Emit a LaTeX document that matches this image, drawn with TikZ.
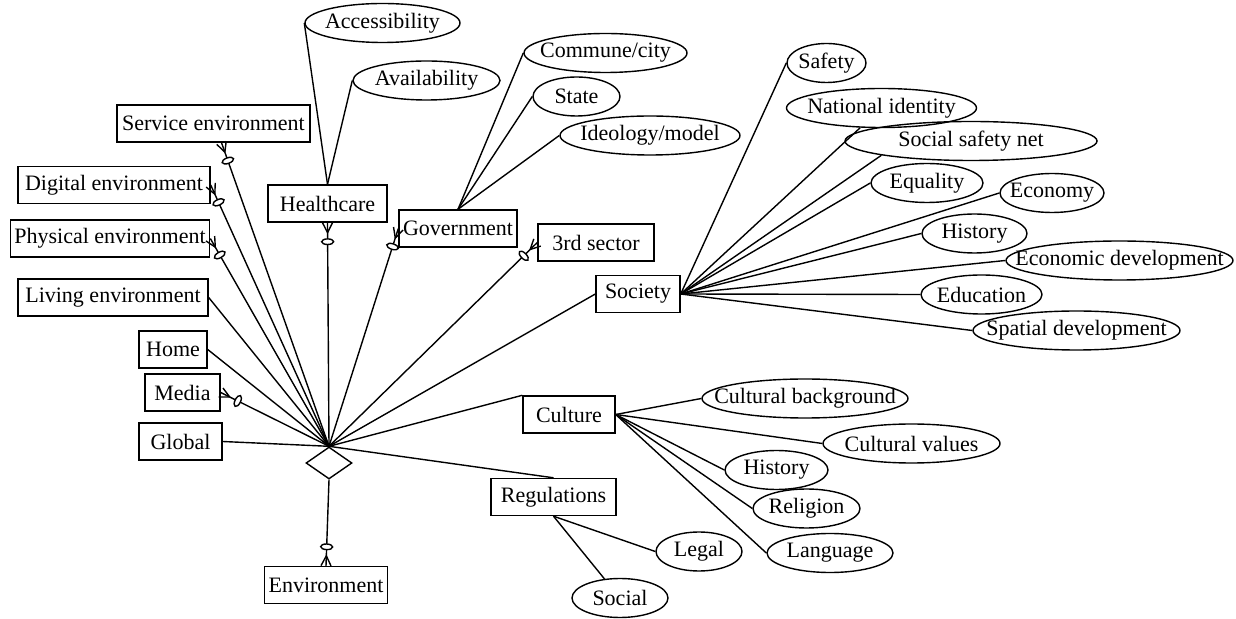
\documentclass[tikz,border=0pt]{standalone}
\usepackage{fontspec}
\setmainfont{Liberation Serif}
\usetikzlibrary{shapes.geometric,decorations.markings}
\begin{document}
\begin{tikzpicture}[
  x=0.5pt, y=-0.5pt,
  font=\fontsize{11}{13}\selectfont,
  box/.style={draw, line width=0.7pt, minimum height=18.5pt, inner sep=2pt},
  attr/.style={draw, ellipse, line width=0.7pt, minimum height=19.5pt, inner xsep=-40pt, inner ysep=-10pt},
  link/.style={line width=0.7pt},
  zmany/.style={link, postaction={decorate}, decoration={markings, mark=at position 1 with {
    \draw[line width=0.7pt] (-5pt,0pt) -- (0pt,2.5pt) (-5pt,0pt) -- (0pt,-2.5pt);
    \draw[line width=0.7pt, fill=white] (-9.5pt,0pt) ellipse [x radius=1.4pt, y radius=3pt];}}}
]
\useasboundingbox (0,0) rectangle (1236,619);

\node[draw, diamond, line width=0.7pt, minimum width=23pt, minimum height=16pt, inner sep=0pt] (hub) at (329,463) {};

\node[box, minimum width=96.5pt] (svc) at (213.5,123.5) {Service environment};
\node[box, minimum width=96pt] (dig) at (114,185) {Digital environment};
\node[box, minimum width=99.5pt] (phys) at (110,238.5) {Physical environment};
\node[box, minimum width=95pt] (liv) at (113,297.5) {Living environment};
\node[box, minimum width=34pt] (home) at (173,349.5) {Home};
\node[box, minimum width=37.5pt] (media) at (182.5,392.5) {Media};
\node[box, minimum width=41.5pt] (glob) at (180.5,441.5) {Global};
\node[box, minimum width=59.5pt] (hc) at (327.5,203.5) {Healthcare};
\node[box, minimum width=58pt] (gov) at (458,228.5) {Government};
\node[box, minimum width=58pt] (third) at (596,242.5) {3rd sector};
\node[box, minimum width=42pt] (soc) at (638,294) {Society};
\node[box, minimum width=46pt] (cult) at (569,414.5) {Culture};
\node[box, minimum width=62.5pt] (reg) at (553.5,497) {Regulations};
\node[box, minimum width=61pt] (env) at (326,585) {Environment};

\node[attr, minimum width=77.5pt] (acc) at (382.5,23) {Accessibility};
\node[attr, minimum width=73.5pt] (avail) at (426.5,80.5) {Availability};
\node[attr, minimum width=81.5pt] (comm) at (605.5,53) {Commune/city};
\node[attr, minimum width=43.5pt] (state) at (576.5,96.5) {State};
\node[attr, minimum width=90pt] (ideo) at (650,135.5) {Ideology/model};
\node[attr, minimum width=39.5pt] (safe) at (826.5,63) {Safety};
\node[attr, minimum width=95pt] (natid) at (881.5,108) {National identity};
\node[attr, minimum width=126pt] (ssn) at (971,141) {Social safety net};
\node[attr, minimum width=56pt] (equal) at (927,183) {Equality};
\node[attr, minimum width=52pt] (econ) at (1052,193) {Economy};
\node[attr, minimum width=52.5pt] (hist) at (974.5,233.5) {History};
\node[attr, minimum width=113.5pt] (ecodev) at (1119.5,260.5) {Economic development};
\node[attr, minimum width=60.5pt] (edu) at (981.5,294.5) {Education};
\node[attr, minimum width=103.5pt] (spat) at (1076.5,330.5) {Spatial development};
\node[attr, minimum width=103pt] (cbg) at (805,398.5) {Cultural background};
\node[attr, minimum width=88.5pt] (cval) at (911.5,443.5) {Cultural values};
\node[attr, minimum width=51.5pt] (chist) at (776.5,470) {History};
\node[attr, minimum width=53.5pt] (relig) at (806.5,508.5) {Religion};
\node[attr, minimum width=63pt] (lang) at (830,553) {Language};
\node[attr, minimum width=43pt] (legal) at (699,551.5) {Legal};
\node[attr, minimum width=48pt] (social) at (620,598) {Social};

\draw[zmany] (hub.north) -- ([xshift=4pt]svc.south);
\draw[zmany] (hub.north) -- (dig.east);
\draw[zmany] (hub.north) -- (phys.east);
\draw[link] (hub.north) -- (liv.east);
\draw[link] (hub.north) -- (home.east);
\draw[zmany] (hub.north) -- (media.east);
\draw[link] (hub.north) -- (glob.east);
\draw[zmany] (hub.north) -- (hc.south);
\draw[zmany] (hub.north) -- (gov.west);
\draw[zmany] (hub.north) -- (third.west);
\draw[link] (hub.north) -- (soc.west);
\draw[link] (hub.north) -- (cult.north west);
\draw[link] (hub.north) -- (reg.north);
\draw[zmany] (hub.south) -- (env.north);

\draw[link] (hc.north) -- (acc.west);
\draw[link] (hc.north) -- (avail.west);
\draw[link] (gov.north) -- (comm.west);
\draw[link] (gov.north) -- (state.west);
\draw[link] (gov.north) -- (ideo.west);

\draw[link] (soc.east) -- (safe.west);
\draw[link] (soc.east) -- (natid);
\draw[link] (soc.east) -- (ssn.south west);
\draw[link] (soc.east) -- (equal.west);
\draw[link] (soc.east) -- (econ.west);
\draw[link] (soc.east) -- (hist.west);
\draw[link] (soc.east) -- (ecodev.west);
\draw[link] (soc.east) -- (edu.west);
\draw[link] (soc.east) -- (spat.west);

\draw[link] (cult.east) -- (cbg.west);
\draw[link] (cult.east) -- (cval.west);
\draw[link] (cult.east) -- (chist.west);
\draw[link] (cult.east) -- (relig.west);
\draw[link] (cult.east) -- (lang.west);

\draw[link] (reg.south) -- (legal.west);
\draw[link] (reg.south) -- (social);
\end{tikzpicture}
\end{document}
